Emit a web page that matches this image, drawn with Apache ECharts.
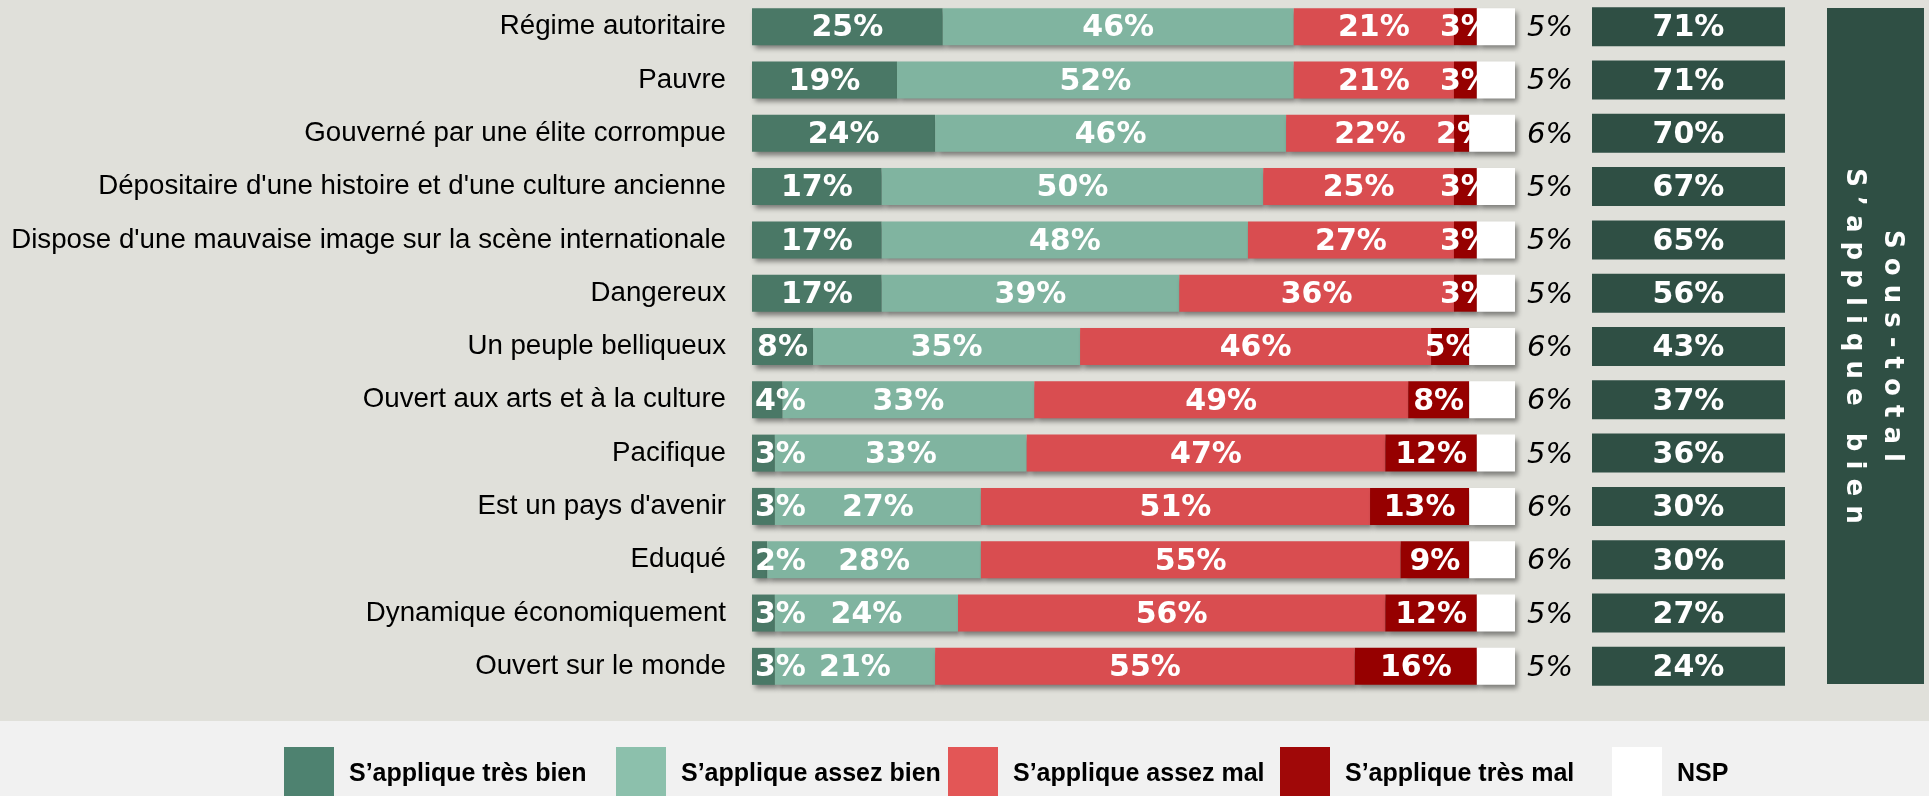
<!DOCTYPE html>
<html>
<head>
<meta charset="utf-8">
<script src="https://cdn.jsdelivr.net/npm/echarts@6/dist/echarts.min.js"></script>
<style>
  html, body { margin: 0; padding: 0; background: #e0e0da; }
  #main { width: 1929px; height: 796px; }
</style>
</head>
<body>
<div id="main"></div>
<script>
var categories = [
    'Régime autoritaire',
    'Pauvre',
    'Gouverné par une élite corrompue',
    "Dépositaire d'une histoire et d'une culture ancienne",
    "Dispose d'une mauvaise image sur la scène internationale",
    'Dangereux',
    'Un peuple belliqueux',
    'Ouvert aux arts et à la culture',
    'Pacifique',
    "Est un pays d'avenir",
    'Eduqué',
    'Dynamique économiquement',
    'Ouvert sur le monde'
];
var tresBien  = [25, 19, 24, 17, 17, 17, 8, 4, 3, 3, 2, 3, 3];
var assezBien = [46, 52, 46, 50, 48, 39, 35, 33, 33, 27, 28, 24, 21];
var assezMal  = [21, 21, 22, 25, 27, 36, 46, 49, 47, 51, 55, 56, 55];
var tresMal   = [3, 3, 2, 3, 3, 3, 5, 8, 12, 13, 9, 12, 16];
var nsp       = [5, 5, 6, 5, 5, 5, 6, 6, 5, 6, 6, 5, 5];
var sousTotal = [71, 71, 70, 67, 65, 56, 43, 37, 36, 30, 30, 27, 24];

var seriesNames = ['S\u2019applique très bien', 'S\u2019applique assez bien', 'S\u2019applique assez mal', 'S\u2019applique très mal', 'NSP'];
var colors = ['#4a7866', '#80b4a0', '#d94d50', '#960000', '#ffffff'];
var legendColors = ['#4e8270', '#8cc0ac', '#e35656', '#a00808', '#ffffff'];

var valueLabel = {
    show: true,
    position: 'inside',
    offset: [0, 2],
    color: '#fff',
    fontFamily: 'DejaVu Sans',
    fontWeight: 'bold',
    fontSize: 30,
    formatter: '{c}%'
};
var shadow = {
    shadowColor: 'rgba(0,0,0,0.45)',
    shadowBlur: 5,
    shadowOffsetX: 3,
    shadowOffsetY: 4
};

function barSeries(idx, values) {
    return {
        name: seriesNames[idx],
        type: 'bar',
        stack: 'total',
        barWidth: 37,
        z: idx == 4 ? 3 : 2,
        itemStyle: Object.assign({ color: colors[idx] }, shadow),
        label: valueLabel,
        data: values.map(function(v) {
            // tiny first segments: label starts at bar start
            if (idx == 0 && v <= 4) {
                return { value: v, label: { position: 'insideLeft', distance: 3 } };
            }
            return v;
        })
    };
}

var series = [
    barSeries(0, tresBien),
    barSeries(1, assezBien),
    barSeries(2, assezMal),
    barSeries(3, tresMal),
    {
        name: seriesNames[4],
        type: 'bar',
        stack: 'total',
        barWidth: 37,
        z: 3,
        itemStyle: Object.assign({ color: colors[4] }, shadow),
        label: {
            show: true,
            position: 'right',
            distance: 12,
            offset: [0, 2],
            color: '#000',
            fontFamily: 'DejaVu Sans',
            fontStyle: 'italic',
            fontSize: 29,
            formatter: '{c}%'
        },
        data: nsp
    },
    {
        name: 'Sous-total',
        type: 'bar',
        xAxisIndex: 1,
        yAxisIndex: 1,
        barWidth: 39,
        itemStyle: { color: '#2f4f44' },
        label: {
            show: true,
            position: 'inside',
            offset: [0, 2],
            color: '#fff',
            fontFamily: 'DejaVu Sans',
            fontWeight: 'bold',
            fontSize: 30,
            formatter: function(p) {
                return sousTotal[p.dataIndex] + '%';
            }
        },
        data: sousTotal.map(function() { return 1; })
    }
];

// one legend per item so the items sit on a fixed step
var legends = seriesNames.map(function(name, i) {
    return {
        data: [{ name: name, itemStyle: { color: legendColors[i] } }],
        left: 279 + i * 332,
        top: 742,
        itemWidth: 50,
        itemHeight: 54,
        itemGap: 0,
        icon: 'rect',
        textStyle: {
            color: '#000',
            fontFamily: 'Liberation Sans',
            fontWeight: 'bold',
            fontSize: 25,
            padding: [0, 0, 0, 10]
        }
    };
});

var chart = echarts.init(document.getElementById('main'));
var option = {
    backgroundColor: '#e0e0da',
    animation: false,
    grid: [
        { left: 752, right: 414, top: 0, bottom: 103 },
        { left: 1592, width: 193, top: 0, bottom: 103 }
    ],
    xAxis: [
        { type: 'value', min: 0, max: 100, show: false },
        { type: 'value', min: 0, max: 1, show: false, gridIndex: 1 }
    ],
    yAxis: [
        {
            type: 'category',
            data: categories,
            inverse: true,
            axisLine: { show: false },
            axisTick: { show: false },
            axisLabel: {
                color: '#000',
                fontFamily: 'Liberation Sans',
                fontSize: 27.7,
                margin: 26
            }
        },
        { type: 'category', data: categories, inverse: true, show: false, gridIndex: 1 }
    ],
    legend: legends,
    graphic: [
        {
            type: 'rect',
            z: -10,
            shape: { x: 0, y: 721, width: 1929, height: 75 },
            style: { fill: '#f1f1f1' }
        },
        {
            type: 'rect',
            shape: { x: 1827, y: 8, width: 97, height: 676 },
            style: { fill: '#2f4f44' }
        },
        {
            type: 'text',
            x: 1873,
            y: 346,
            rotation: -Math.PI / 2,
            style: {
                text: 'S o u s - t o t a l\nS \u2019 a p p l i q u e   b i e n',
                fill: '#fff',
                fontFamily: 'DejaVu Sans',
                fontWeight: 'bold',
                fontSize: 26,
                lineHeight: 38,
                align: 'center',
                verticalAlign: 'middle'
            }
        }
    ],
    series: series
};
chart.setOption(option);
</script>
</body>
</html>
